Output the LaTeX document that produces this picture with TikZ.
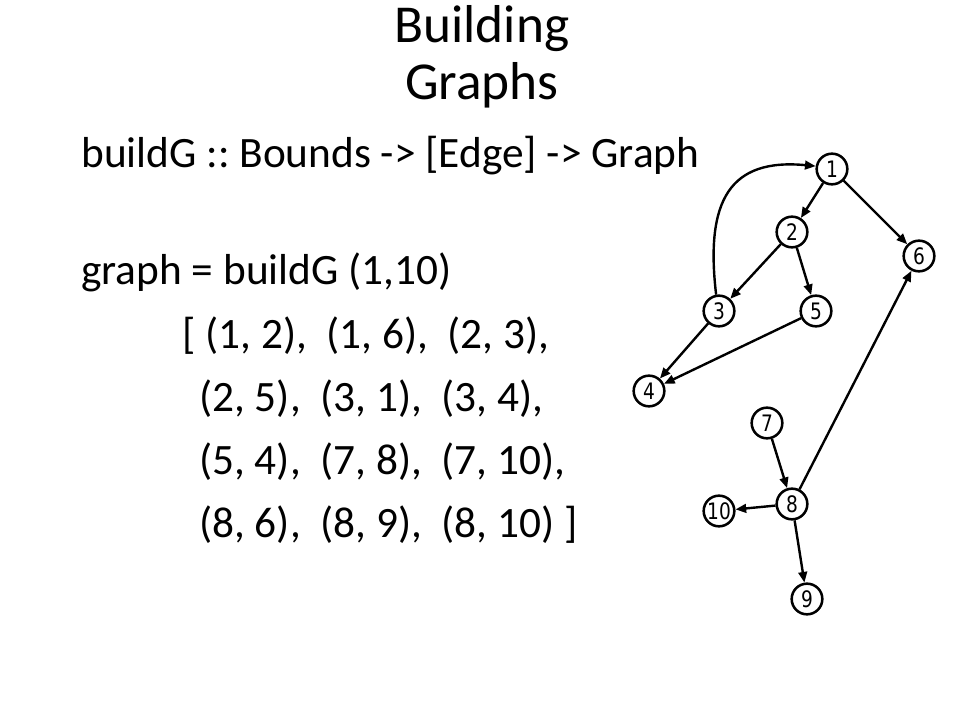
\documentclass[tikz,border=0pt]{standalone}
\usepackage{fontspec}
\setmainfont{Carlito}
\newfontfamily\numfont{DejaVu Sans}[FakeStretch=0.82]
\usetikzlibrary{arrows.meta}
\frenchspacing
\begin{document}
\begin{tikzpicture}[x=0.75pt,y=-0.75pt,
  vtx/.style={circle,draw,line width=1.9pt,minimum size=23pt,inner sep=0pt,font=\numfont\fontsize{17pt}{17pt}\selectfont},
  edge/.style={line width=1.8pt,-{Triangle[length=8pt,width=6.5pt]}},
  ttl/.style={anchor=base,font=\fontsize{40pt}{43pt}\selectfont},
  body/.style={anchor=base west,font=\fontsize{32.5pt}{38pt}\selectfont,inner sep=0pt}]
\useasboundingbox (0,0) rectangle (960,720);
\node[ttl] (t1) at (482,43) {Building};
\node[ttl] (t2) at (482,100) {Graphs};
\node[body] (l1) at (81,168) {buildG :: Bounds -> [Edge] -> Graph};
\node[body] (l2) at (81,285) {graph = buildG (1,10)};
\node[body] (l3) at (182,348) {[ (1, 2),\ \ (1, 6),\ \ (2, 3),};
\node[body] (l4) at (199,411) {(2, 5),\ \ (3, 1),\ \ (3, 4),};
\node[body] (l5) at (199,474) {(5, 4),\ \ (7, 8),\ \ (7, 10),};
\node[body] (l6) at (199,537) {(8, 6),\ \ (8, 9),\ \ (8, 10) ]};
\node[vtx] (n1) at (832,169) {1};
\node[vtx] (n2) at (792,232) {2};
\node[vtx] (n3) at (719,311) {3};
\node[vtx] (n4) at (649,391) {4};
\node[vtx] (n5) at (816,311) {5};
\node[vtx] (n6) at (919,256) {6};
\node[vtx] (n7) at (767,423) {7};
\node[vtx] (n8) at (792,504) {8};
\node[vtx] (n9) at (807,599) {9};
\node[vtx] (n10) at (719,511) {10};
\draw[edge] (n1) -- (n2);
\draw[edge] (n1) -- (n6);
\draw[edge] (n2) -- (n3);
\draw[edge] (n2) -- (n5);
\draw[edge] (n3.100) .. controls (705,200) and (730,158) .. (n1.170);
\draw[edge] (n3) -- (n4);
\draw[edge] (n5) -- (n4);
\draw[edge] (n7) -- (n8);
\draw[edge] (n8) -- (n10);
\draw[edge] (n8) -- (n9);
\draw[edge] (n8) -- (n6);
\end{tikzpicture}
\end{document}
